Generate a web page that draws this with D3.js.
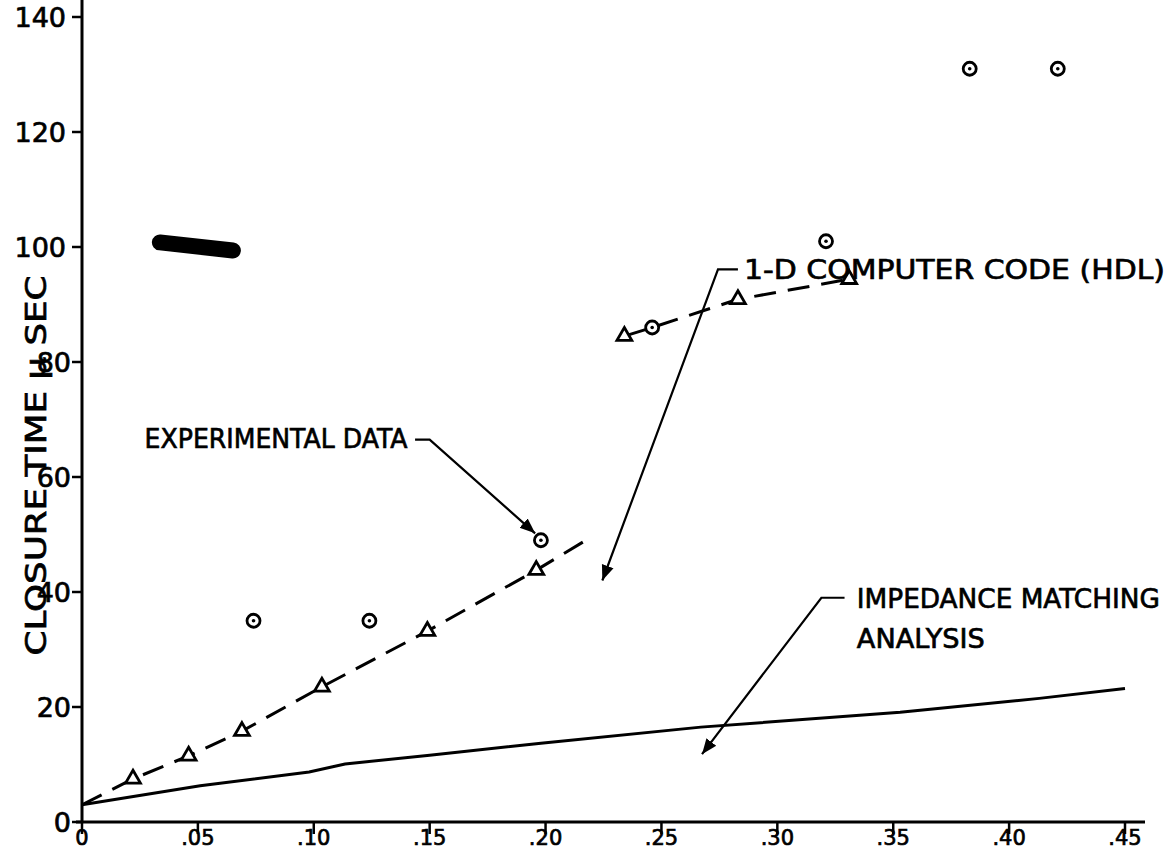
<!DOCTYPE html>
<html>
<head>
<meta charset="utf-8">
<script src="https://cdn.jsdelivr.net/npm/d3@7"></script>
<style>
  body { margin: 0; background: #fff; }
  svg { display: block; }
  text { font-family: "DejaVu Sans", sans-serif; fill: #000; stroke: #000; stroke-width: 0.7px; }
</style>
</head>
<body>
<div id="chart"></div>
<script>
var width = 1171
var height = 854

// tick values and labels
var xTicks = [0, 0.05, 0.10, 0.15, 0.20, 0.25, 0.30, 0.35, 0.40, 0.45]
var xTickLabels = ["0", ".05", ".10", ".15", ".20", ".25", ".30", ".35", ".40", ".45"]
var yTicks = [0, 20, 40, 60, 80, 100, 120, 140]

// experimental data (circles)
var expX = [0.074, 0.124, 0.198, 0.246, 0.321, 0.383, 0.421]
var expY = [35, 35, 49, 86, 101, 131, 131]

// 1-D computer code (HDL), triangles
var codeX = [0.022, 0.046, 0.069, 0.1035, 0.149, 0.196]
var codeY = [7.5, 11.5, 15.8, 23.5, 33.2, 43.8]
var codeUpperX = [0.234, 0.283, 0.331]
var codeUpperY = [84.5, 90.9, 94.4]

// dashed curves through the code results
var dashLowX = [0, 0.022, 0.046, 0.069, 0.1035, 0.149, 0.196, 0.217]
var dashLowY = [3, 7.5, 11.5, 15.8, 23.5, 33.2, 43.8, 48.9]
var dashUpX = [0.234, 0.246, 0.283, 0.331]
var dashUpY = [84.5, 86, 90.9, 94.4]

// impedance matching analysis (solid)
var impX = [0, 0.051, 0.098, 0.1135, 0.150, 0.198, 0.267, 0.353, 0.413, 0.45]
var impY = [3, 6.3, 8.7, 10.1, 11.6, 13.7, 16.5, 19.1, 21.5, 23.2]

// heavy smudge near 100
var smudgeX = [0.0336, 0.0651]
var smudgeY = [100.8, 99.4]

const svg = d3.select("#chart").append("svg")
  .attr("width", width)
  .attr("height", height)

const x = d3.scaleLinear().domain([0, 0.45]).range([82, 1125])
const y = d3.scaleLinear().domain([0, 140]).range([822, 17])

const zip = (a, b) => a.map((v, i) => [v, b[i]])
const line = d3.line().x(d => x(d[0])).y(d => y(d[1]))

svg.append("defs").append("marker")
  .attr("id", "arrow")
  .attr("viewBox", "0 0 10 10")
  .attr("refX", 10).attr("refY", 5)
  .attr("markerWidth", 7).attr("markerHeight", 7)
  .attr("markerUnits", "strokeWidth")
  .attr("orient", "auto")
  .append("path")
  .attr("d", "M0,1 L10,5 L0,9 Z")
  .attr("fill", "#000")

// axes
svg.append("line")
  .attr("x1", x(0)).attr("x2", x(0))
  .attr("y1", y(0)).attr("y2", 0)
  .attr("stroke", "#000").attr("stroke-width", 3)
svg.append("line")
  .attr("x1", x(0) - 6).attr("x2", 1145)
  .attr("y1", y(0)).attr("y2", y(0))
  .attr("stroke", "#000").attr("stroke-width", 3)

svg.selectAll(".ytick").data(yTicks).enter().append("line")
  .attr("x1", x(0) - 10).attr("x2", x(0))
  .attr("y1", d => y(d)).attr("y2", d => y(d))
  .attr("stroke", "#000").attr("stroke-width", 2.5)

svg.selectAll(".ylab").data(yTicks).enter().append("text")
  .attr("x", d => d >= 100 ? x(0) - 16 : x(0) - 11)
  .attr("y", d => y(d) + 10)
  .attr("text-anchor", "end")
  .style("font-size", "27px")
  .text(d => d)

svg.selectAll(".xtick").data(xTicks).enter().append("line")
  .attr("x1", d => x(d)).attr("x2", d => x(d))
  .attr("y1", y(0)).attr("y2", y(0) + 12)
  .attr("stroke", "#000").attr("stroke-width", 2.5)

svg.selectAll(".xlab").data(xTicks).enter().append("text")
  .attr("x", d => x(d))
  .attr("y", 845)
  .attr("text-anchor", "middle")
  .style("font-size", "21px")
  .text((d, i) => xTickLabels[i])

svg.append("text")
  .attr("transform", `translate(46,${y(62)})rotate(-90)`)
  .attr("text-anchor", "middle")
  .attr("textLength", 380)
  .attr("lengthAdjust", "spacingAndGlyphs")
  .style("font-size", "28px")
  .text("CLOSURE  TIME  μ SEC")

// curves
svg.append("path")
  .attr("d", line(zip(impX, impY)))
  .attr("fill", "none").attr("stroke", "#000").attr("stroke-width", 3)

svg.append("path")
  .attr("d", line(zip(dashLowX, dashLowY)))
  .attr("fill", "none").attr("stroke", "#000").attr("stroke-width", 3)
  .attr("stroke-dasharray", "22,12")

svg.append("path")
  .attr("d", line(zip(dashUpX, dashUpY)))
  .attr("fill", "none").attr("stroke", "#000").attr("stroke-width", 3)
  .attr("stroke-dasharray", "22,12")

svg.append("path")
  .attr("d", line(zip(smudgeX, smudgeY)))
  .attr("fill", "none").attr("stroke", "#000").attr("stroke-width", 16)
  .attr("stroke-linecap", "round")

// triangles
const tri = d3.symbol().type(d3.symbolTriangle).size(95)
svg.selectAll(".tri").data(zip(codeX.concat(codeUpperX), codeY.concat(codeUpperY))).enter()
  .append("path")
  .attr("d", tri)
  .attr("transform", d => `translate(${x(d[0])},${y(d[1])})`)
  .attr("fill", "#fff").attr("stroke", "#000").attr("stroke-width", 2.8)

// circles
const exp = svg.selectAll(".exp").data(zip(expX, expY)).enter().append("g")
  .attr("transform", d => `translate(${x(d[0])},${y(d[1])})`)
exp.append("circle").attr("r", 6.5)
  .attr("fill", "#fff").attr("stroke", "#000").attr("stroke-width", 2.8)
exp.append("circle").attr("r", 1.8).attr("fill", "#000")

// annotations: leader goes from the text side, along a short stub, then to the tip
var notes = [
  { lines: ["EXPERIMENTAL DATA"], lens: [263], tx: 0.027, ty: 65, lead: [[0.1437, 66.5], [0.150, 66.5], [0.1955, 50.2]] },
  { lines: ["1-D  COMPUTER  CODE (HDL)"], lens: [421], tx: 0.2856, ty: 94.4, lead: [[0.283, 96.1], [0.2744, 96.1], [0.2245, 42]] },
  { lines: ["IMPEDANCE  MATCHING", "ANALYSIS"], lens: [303, 128], tx: 0.3343, ty: 37.3, lead: [[0.329, 39], [0.319, 39], [0.2675, 11.8]] }
]

notes.forEach(n => {
  n.lines.forEach((t, i) => {
    svg.append("text")
      .attr("x", x(n.tx))
      .attr("y", y(n.ty) + i * 40)
      .attr("textLength", n.lens[i])
      .attr("lengthAdjust", "spacingAndGlyphs")
      .style("font-size", "27px")
      .text(t)
  })
  svg.append("path")
    .attr("d", line(n.lead))
    .attr("fill", "none").attr("stroke", "#000").attr("stroke-width", 2.2)
    .attr("marker-end", "url(#arrow)")
})
</script>
</body>
</html>
